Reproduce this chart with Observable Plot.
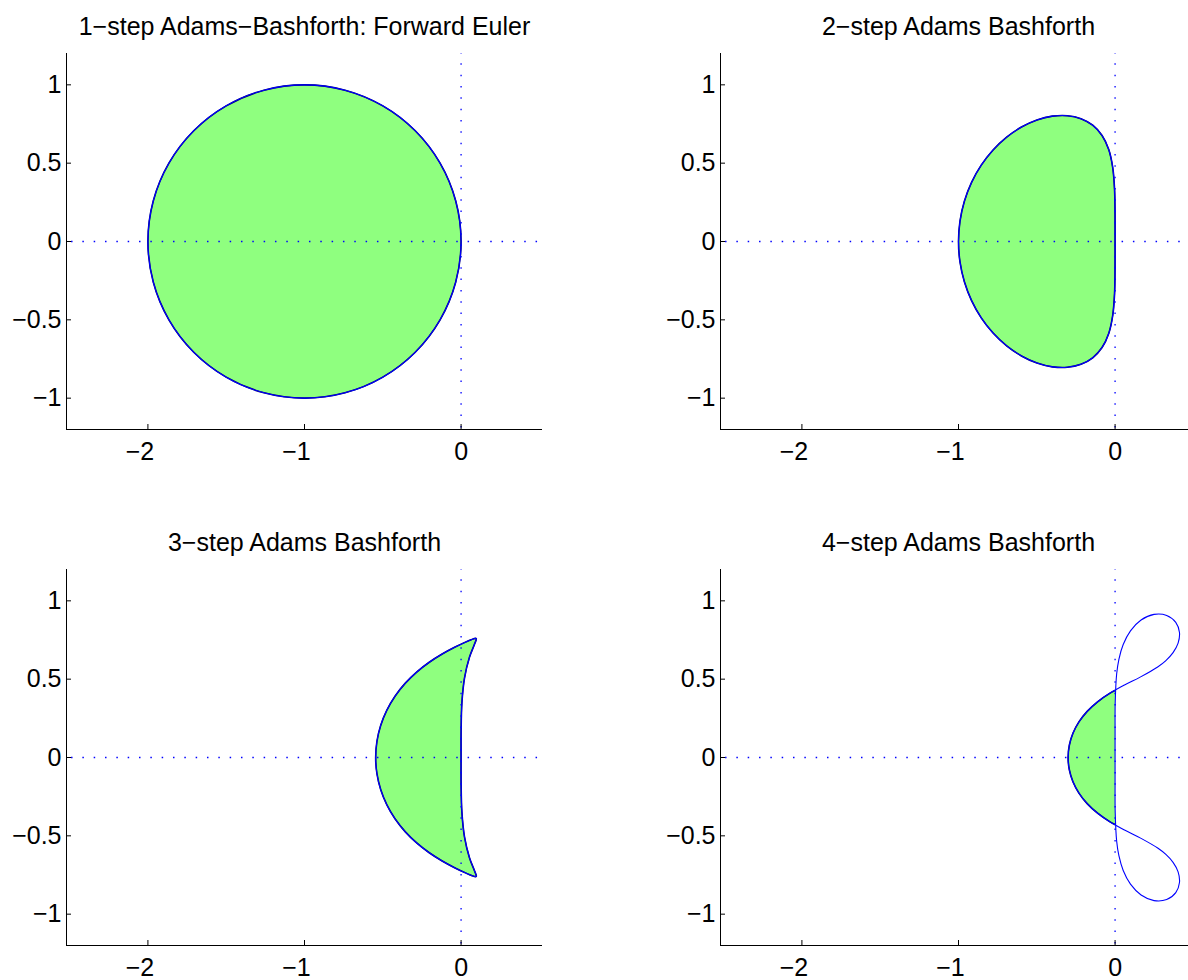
<!DOCTYPE html>
<html>
<head>
<meta charset="utf-8">
<script src="https://cdn.jsdelivr.net/npm/d3@7"></script>
<script src="https://cdn.jsdelivr.net/npm/@observablehq/plot@0.6"></script>
<style>
  html, body { margin: 0; padding: 0; background: #fff; overflow: hidden; }
  #wrap { position: relative; width: 1188px; height: 980px; overflow: hidden; }
  .panel { position: absolute; width: 594px; height: 490px; }
  .panel svg { max-width: none !important; width: 594px; height: 490px; }
</style>
</head>
<body>
<div id="wrap"></div>
<script>
// ---- chart content ----
const titles = [
  "1\u2212step Adams\u2212Bashforth: Forward Euler",
  "2\u2212step Adams Bashforth",
  "3\u2212step Adams Bashforth",
  "4\u2212step Adams Bashforth"
];
const xTicks = [-2, -1, 0];
const yTicks = [-1, -0.5, 0, 0.5, 1];
const xDomain = [-2.52, 0.52];
const yDomain = [-1.2, 1.2];

// upper halves of the stability-region boundaries (origin round to the negative real axis)
const ab1X = [0, -0.0341, -0.1340, -0.2929, -0.5, -0.7412, -1, -1.2588, -1.5, -1.7071, -1.8660, -1.9659, -2];
const ab1Y = [0, 0.2588, 0.5, 0.7071, 0.8660, 0.9659, 1, 0.9659, 0.8660, 0.7071, 0.5, 0.2588, 0];

const ab2X = [0, -0.0002, -0.0033, -0.0150, -0.0405, -0.0831, -0.1429, -0.2179, -0.3049, -0.4, -0.4990, -0.5977, -0.6923, -0.7790, -0.8547, -0.9166, -0.9624, -0.9905, -1];
const ab2Y = [0, 0.1724, 0.3326, 0.4721, 0.5871, 0.6770, 0.7423, 0.7841, 0.8031, 0.8, 0.7755, 0.7304, 0.6662, 0.5844, 0.4873, 0.3772, 0.2572, 0.1303, 0];

const ab3X = [0, 0.0003, 0.0051, 0.0221, 0.0535, 0.0856, 0.0972, 0.0911, 0.0768, 0.0553, 0.0275, -0.0414, -0.1207, -0.2032, -0.2835, -0.3574, -0.4220, -0.4746, -0.5135, -0.5374, -0.5455];
const ab3Y = [0, 0.1745, 0.3470, 0.5083, 0.6396, 0.7229, 0.7573, 0.7604, 0.7570, 0.7485, 0.7364, 0.7034, 0.6606, 0.6081, 0.5455, 0.4730, 0.3912, 0.3012, 0.2046, 0.1035, 0];

const ab4X = [0, 0, 0.0009, 0.0100, 0.0244, 0.0519, 0.0983, 0.1660, 0.2488, 0.3296, 0.3876, 0.4113, 0.4025, 0.3703, 0.3244, 0.2720, 0.1631, 0.0602, -0.0319, -0.1116, -0.1782, -0.2309, -0.2691, -0.2922, -0.3];
const ab4Y = [0, 0.1746, 0.3506, 0.5327, 0.6270, 0.7210, 0.8084, 0.8775, 0.9133, 0.9066, 0.8624, 0.7976, 0.7297, 0.6691, 0.6189, 0.5779, 0.5146, 0.4625, 0.4112, 0.3558, 0.2944, 0.2270, 0.1545, 0.0782, 0];
const ab4Crossing = 0.428; // where the 4-step boundary crosses the imaginary axis

// ---- helpers ----
function upperPts(xs, ys) { return xs.map((x, i) => ({x, y: ys[i]})); }
function closedLoop(xs, ys) {
  const up = upperPts(xs, ys);
  const low = up.slice(1, -1).reverse().map(p => ({x: p.x, y: -p.y}));
  return up.concat(low);
}
function ab4FillPts() {
  const up = upperPts(ab4X, ab4Y).filter(p => p.x < 0);
  const low = up.slice(0, -1).reverse().map(p => ({x: p.x, y: -p.y}));
  return [{x: 0, y: ab4Crossing}].concat(up, low, [{x: 0, y: -ab4Crossing}]);
}
const fmt = d => d < 0 ? "\u2212" + String(-d) : String(d);

const GREEN = "rgb(143,255,127)";
const EDGE = "#00006a";
const DOT = "#0000ff";
const FS = 25;
const W = 594, H = 490, ML = 66, MT = 53, MB = 61, MR = 52;

const panels = [
  {title: titles[0], left: 0,   top: 0,   loop: closedLoop(ab1X, ab1Y), fill: closedLoop(ab1X, ab1Y), fillCurve: "catmull-rom-closed"},
  {title: titles[1], left: 654, top: 0,   loop: closedLoop(ab2X, ab2Y), fill: closedLoop(ab2X, ab2Y), fillCurve: "catmull-rom-closed"},
  {title: titles[2], left: 0,   top: 516, loop: closedLoop(ab3X, ab3Y), fill: closedLoop(ab3X, ab3Y), fillCurve: "catmull-rom-closed"},
  {title: titles[3], left: 654, top: 516, loop: closedLoop(ab4X, ab4Y), fill: ab4FillPts(), fillCurve: "catmull-rom"}
];

const wrap = document.getElementById("wrap");
for (const p of panels) {
  const chart = Plot.plot({
    width: W, height: H,
    marginLeft: ML, marginTop: MT, marginBottom: MB, marginRight: MR,
    x: {domain: xDomain, label: null},
    y: {domain: yDomain, label: null},
    style: {fontFamily: '"Liberation Sans", Arial, Helvetica, sans-serif', fontSize: FS + "px", color: "black", background: "transparent", overflow: "visible"},
    marks: [
      Plot.line(p.fill, {x: "x", y: "y", curve: p.fillCurve, fill: GREEN, stroke: EDGE, strokeWidth: 1.6}),
      Plot.ruleY([0], {stroke: DOT, strokeWidth: 1.3, strokeDasharray: "1.5 9.83", strokeDashoffset: 6.3}),
      Plot.ruleX([0], {stroke: DOT, strokeWidth: 1.3, strokeDasharray: "1.5 9.83", strokeDashoffset: 1.0}),
      Plot.line(p.loop, {x: "x", y: "y", curve: "catmull-rom-closed", stroke: "blue", strokeWidth: 1.1}),
      Plot.ruleX([xDomain[0]], {stroke: "black", strokeWidth: 1}),
      Plot.ruleY([yDomain[0]], {stroke: "black", strokeWidth: 1}),
      Plot.axisX(xTicks, {tickSize: -5, tickFormat: () => "", label: null, stroke: "black"}),
      Plot.axisY(yTicks, {tickSize: -5, tickFormat: () => "", label: null, stroke: "black"}),
      Plot.axisX(xTicks.filter(d => d < 0), {tickSize: 0, tickPadding: 13, dx: -8, tickFormat: fmt, label: null, fontSize: FS}),
      Plot.axisX(xTicks.filter(d => d >= 0), {tickSize: 0, tickPadding: 13, tickFormat: fmt, label: null, fontSize: FS}),
      Plot.axisY(yTicks, {tickSize: 0, tickPadding: 5, tickFormat: fmt, label: null, fontSize: FS}),
      Plot.text([p.title], {frameAnchor: "top", dy: -19, lineAnchor: "bottom", fontSize: FS})
    ]
  });
  const div = document.createElement("div");
  div.className = "panel";
  div.style.left = p.left + "px";
  div.style.top = p.top + "px";
  div.appendChild(chart);
  wrap.appendChild(div);
}
</script>
</body>
</html>
